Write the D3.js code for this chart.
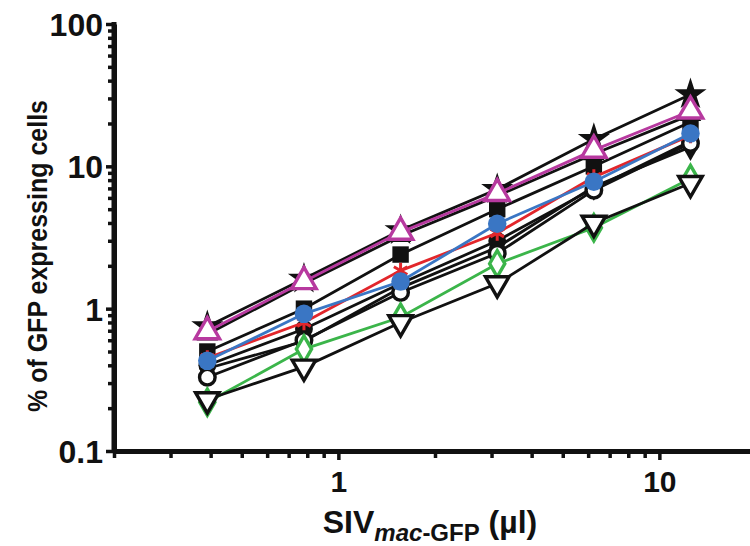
<!DOCTYPE html>
<html>
<head>
<meta charset="utf-8">
<script src="https://cdn.jsdelivr.net/npm/d3@7"></script>
<style>
html, body { margin: 0; padding: 0; background: #fff; }
svg { display: block; }
text { font-family: "Liberation Sans", Arial, Helvetica, sans-serif; font-weight: bold; fill: #111; }
.axis path, .axis line { stroke: #111; }
</style>
</head>
<body>
<svg id="chart" width="750" height="546"></svg>
<script>
// dose of virus (ul), two-fold dilutions
var doses = [0.390625, 0.78125, 1.5625, 3.125, 6.25, 12.5];

// % GFP expressing cells, one array per donor
var starVals    = [0.75, 1.62, 3.55, 6.9, 15.5, 32];
var triBlkVals  = [0.66, 1.5, 3.25, 6.2, 12.2, 23];
var squareVals  = [0.5, 1.0, 2.4, 5.0, 10.0, 20.5];
var redVals     = [0.45, 0.8, 1.85, 3.4, 8.4, 16.5];
var blueVals    = [0.43, 0.92, 1.55, 3.95, 7.8, 17];
var dotVals     = [0.4, 0.72, 1.5, 3.0, 7.0, 15];
var ringVals    = [0.33, 0.6, 1.3, 2.45, 6.8, 14.5];
var diaBlkVals  = [0.38, 0.59, 1.4, 2.7, 7.2, 13.7];
var greenVals   = [0.22, 0.52, 0.87, 2.07, 3.7, 8.2];
var downTriVals = [0.23, 0.39, 0.8, 1.5, 4.0, 7.6];
var magentaVals = [0.69, 1.55, 3.45, 6.45, 13, 24.5];

var xMajor = [1, 10];
var xMinor = [0.2, 0.3, 0.4, 0.5, 0.6, 0.7, 0.8, 0.9, 2, 3, 4, 5, 6, 7, 8, 9];
var yMajor = [0.1, 1, 10, 100];
var yMinor = [0.2, 0.3, 0.4, 0.5, 0.6, 0.7, 0.8, 0.9, 2, 3, 4, 5, 6, 7, 8, 9, 20, 30, 40, 50, 60, 70, 80, 90];
var yLabels = {0.1: "0.1", 1: "1", 10: "10", 100: "100"};

var BLACK = "#111", MAGENTA = "#b7399f", BLUE = "#3a76c4", GREEN = "#3bb54a", RED = "#e2262b";

var series = [
	{vals: starVals, line: BLACK, shape: d3.symbolStar, size: 320, fill: BLACK, stroke: "none"},
	{vals: triBlkVals, line: BLACK, shape: d3.symbolTriangle, size: 200, fill: BLACK, stroke: "none"},
	{vals: squareVals, line: BLACK, shape: d3.symbolSquare, size: 270, fill: BLACK, stroke: "none"},
	{vals: dotVals, line: BLACK, shape: d3.symbolCircle, size: 250, fill: BLACK, stroke: "none"},
	{vals: diaBlkVals, line: BLACK, shape: d3.symbolDiamond, size: 230, fill: BLACK, stroke: "none"},
	{vals: ringVals, line: BLACK, shape: d3.symbolCircle, size: 190, fill: "#fff", stroke: BLACK},
	{vals: greenVals, line: GREEN, shape: d3.symbolDiamond, size: 200, fill: "#fff", stroke: GREEN},
	{vals: downTriVals, line: BLACK, shape: d3.symbolTriangle, size: 240, fill: "#fff", stroke: BLACK, flip: true},
	{vals: redVals, line: RED, shape: d3.symbolAsterisk, size: 170, fill: "none", stroke: RED},
	{vals: blueVals, line: BLUE, shape: d3.symbolCircle, size: 270, fill: BLUE, stroke: "none"},
	{vals: magentaVals, line: MAGENTA, shape: d3.symbolTriangle, size: 260, fill: "#fff", stroke: MAGENTA}
];

var svg = d3.select("#chart");
var x = d3.scaleLog().domain([0.2, 20]).range([114, 756]);
var y = d3.scaleLog().domain([0.1, 100]).range([451, 24]);

// axes: minor ticks first, then major with labels
function styleAxis(g){
	g.select(".domain").attr("stroke-width", 5);
	g.selectAll(".tick line").attr("stroke-width", 3.5);
}
var gxMinor = svg.append("g").attr("class", "axis").attr("transform", "translate(0,451)")
		.call(d3.axisBottom(x).tickValues(xMinor).tickSize(7).tickSizeOuter(0).tickFormat(""));
styleAxis(gxMinor);
var gx = svg.append("g").attr("class", "axis").attr("transform", "translate(0,451)")
		.call(d3.axisBottom(x).tickValues(xMajor).tickSize(9).tickSizeOuter(0).tickPadding(10)
			.tickFormat(function(d){ return d3.format("d")(d); }));
styleAxis(gx);
gx.selectAll("text").attr("font-size", 30).attr("fill", "#111")
		.attr("font-family", null).attr("dy", "0.72em");

var gyMinor = svg.append("g").attr("class", "axis").attr("transform", "translate(114,0)")
		.call(d3.axisLeft(y).tickValues(yMinor).tickSize(6).tickSizeOuter(0).tickFormat(""));
styleAxis(gyMinor);
var gy = svg.append("g").attr("class", "axis").attr("transform", "translate(114,0)")
		.call(d3.axisLeft(y).tickValues(yMajor).tickSize(8).tickSizeOuter(0).tickPadding(3)
			.tickFormat(function(d){ return yLabels[d]; }));
styleAxis(gy);
gy.select(".domain").attr("d", "M0," + (y(100) - 2) + "V" + (y(0.1) + 2));
gy.selectAll("text").attr("font-size", 32).attr("fill", "#111")
		.attr("font-family", null).attr("dy", "0.36em");

// data
var line = d3.line().x(function(d){ return x(d[0]); }).y(function(d){ return y(d[1]); });
var plot = svg.append("g");
series.forEach(function(s){
	var pts = doses.map(function(dv, i){ return [dv, s.vals[i]]; });
	var g = plot.append("g");
	g.append("path").attr("d", line(pts)).attr("fill", "none")
			.attr("stroke", s.line).attr("stroke-width", 2.8);
	var sym = d3.symbol().type(s.shape).size(s.size);
	g.selectAll("path.mk").data(pts).enter().append("path").attr("class", "mk")
			.attr("d", sym)
			.attr("transform", function(d){
				var t = "translate(" + x(d[0]) + "," + y(d[1]) + ")";
				return s.flip ? t + " rotate(180)" : t;
			})
			.attr("fill", s.fill)
			.attr("stroke", s.stroke)
			.attr("stroke-width", s.shape === d3.symbolAsterisk ? 3 : 3.4);
});

// titles
svg.append("text")
		.attr("transform", "translate(47,256) rotate(-90)")
		.attr("text-anchor", "middle")
		.attr("font-size", 28)
		.attr("textLength", 312)
		.attr("lengthAdjust", "spacingAndGlyphs")
		.text("% of GFP expressing cells");

var xt = svg.append("text").attr("x", 430).attr("y", 533).attr("text-anchor", "middle").attr("font-size", 32);
xt.append("tspan").text("SIV");
xt.append("tspan").attr("font-size", 24).attr("font-style", "italic").attr("dy", 8).text("mac");
xt.append("tspan").attr("font-size", 24).text("-GFP");
xt.append("tspan").attr("dy", -8).text(" (\u00b5l)");
</script>
</body>
</html>
